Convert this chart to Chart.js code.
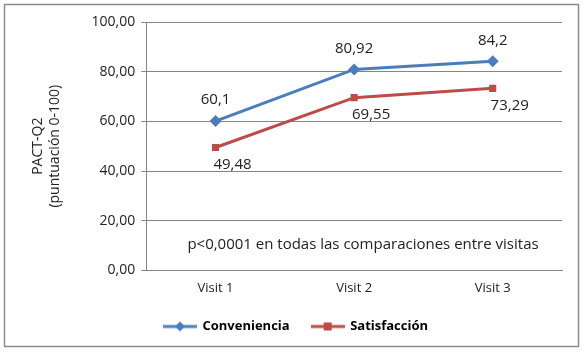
<!DOCTYPE html>
<html>
<head>
<meta charset="utf-8">
<script src="https://cdn.jsdelivr.net/npm/chart.js@4.4.1/dist/chart.umd.min.js"></script>
<style>
  html, body { margin: 0; padding: 0; background: #fff; }
  #wrap { width: 584px; height: 352px; position: relative; }
</style>
</head>
<body>
<div id="wrap"><canvas id="pactChart" width="584" height="352"></canvas></div>
<script>
const visits = ['Visit 1', 'Visit 2', 'Visit 3'];
const conveniencia = [60.1, 80.92, 84.2];
const satisfaccion = [49.48, 69.55, 73.29];
const convenienciaLabels = ['60,1', '80,92', '84,2'];
const satisfaccionLabels = ['49,48', '69,55', '73,29'];
const yTicks = [0, 20, 40, 60, 80, 100];

const FONT = "Open Sans, 'Liberation Sans', sans-serif";
const BLUE = '#4A7EBB';
const RED = '#BE4B48';

// little canvases for the legend: line + marker
function legendIcon(color, shape) {
  const c = document.createElement('canvas');
  c.width = 34; c.height = 12;
  const g = c.getContext('2d');
  g.strokeStyle = color; g.lineWidth = 3;
  g.beginPath(); g.moveTo(0, 6); g.lineTo(34, 6); g.stroke();
  g.fillStyle = color;
  if (shape === 'diamond') {
    g.beginPath(); g.moveTo(17, 1); g.lineTo(22, 6); g.lineTo(17, 11); g.lineTo(12, 6); g.closePath(); g.fill();
  } else {
    g.fillRect(13, 2, 8, 8);
  }
  return c;
}

const extras = {
  id: 'extras',
  beforeDraw(chart) {
    const ctx = chart.ctx;
    ctx.save();
    ctx.fillStyle = '#fff';
    ctx.fillRect(0, 0, chart.width, chart.height);
    ctx.strokeStyle = '#8c8c8c';
    ctx.lineWidth = 1.5;
    ctx.strokeRect(4.5, 4.5, 574, 342);
    ctx.restore();
  },
  afterDatasetsDraw(chart) {
    const ctx = chart.ctx;
    const x = chart.scales.x, y = chart.scales.y;
    ctx.save();
    ctx.font = '15px ' + FONT;
    ctx.fillStyle = '#222';
    ctx.textAlign = 'center';
    ctx.textBaseline = 'middle';
    conveniencia.forEach((v, i) => {
      ctx.fillText(convenienciaLabels[i], x.getPixelForValue(i), y.getPixelForValue(v) - 21);
    });
    satisfaccion.forEach((v, i) => {
      ctx.fillText(satisfaccionLabels[i], x.getPixelForValue(i) + 17, y.getPixelForValue(v) + 17);
    });
    ctx.fillText('p<0,0001 en todas las comparaciones entre visitas', 363, 245);
    ctx.restore();
  }
};

new Chart(document.getElementById('pactChart'), {
  type: 'line',
  data: {
    labels: visits,
    datasets: [
      {
        label: 'Conveniencia',
        data: conveniencia,
        borderColor: BLUE,
        backgroundColor: BLUE,
        borderWidth: 3,
        pointStyle: 'rectRot',
        pointRadius: 6,
        pointBorderWidth: 0,
        tension: 0
      },
      {
        label: 'Satisfacción',
        data: satisfaccion,
        borderColor: RED,
        backgroundColor: RED,
        borderWidth: 3,
        pointStyle: 'rect',
        pointRadius: 5,
        pointBorderWidth: 0,
        tension: 0
      }
    ]
  },
  options: {
    responsive: false,
    animation: false,
    layout: { padding: { left: 30, right: 22, top: 22, bottom: 9 } },
    plugins: {
      tooltip: { enabled: false },
      legend: {
        position: 'bottom',
        labels: {
          usePointStyle: true,
          pointStyleWidth: 32,
          boxHeight: 12,
          padding: 22,
          color: '#111',
          font: { family: FONT, size: 13, weight: 'bold' },
          generateLabels(chart) {
            return chart.data.datasets.map((ds, i) => ({
              text: ds.label,
              pointStyle: legendIcon(ds.borderColor, i === 0 ? 'diamond' : 'square'),
              fillStyle: ds.borderColor,
              strokeStyle: ds.borderColor,
              lineWidth: 0,
              datasetIndex: i,
              hidden: false
            }));
          }
        }
      }
    },
    scales: {
      x: {
        offset: true,
        grid: { display: false, drawTicks: true },
        border: { color: '#868686' },
        ticks: { color: '#222', font: { family: FONT, size: 13 }, padding: 2 }
      },
      y: {
        min: 0,
        max: 100,
        afterBuildTicks(scale) { scale.ticks = yTicks.map(v => ({ value: v })); },
        grid: { color: '#868686', tickLength: 5 },
        border: { color: '#868686' },
        ticks: {
          color: '#222',
          font: { family: FONT, size: 14 },
          padding: 6,
          callback: v => v.toFixed(2).replace('.', ',')
        },
        title: {
          display: true,
          text: ['PACT-Q2', '(puntuación 0-100)'],
          color: '#222',
          font: { family: FONT, size: 14 },
          padding: { top: 0, bottom: 22 }
        }
      }
    }
  },
  plugins: [extras]
});
</script>
</body>
</html>
